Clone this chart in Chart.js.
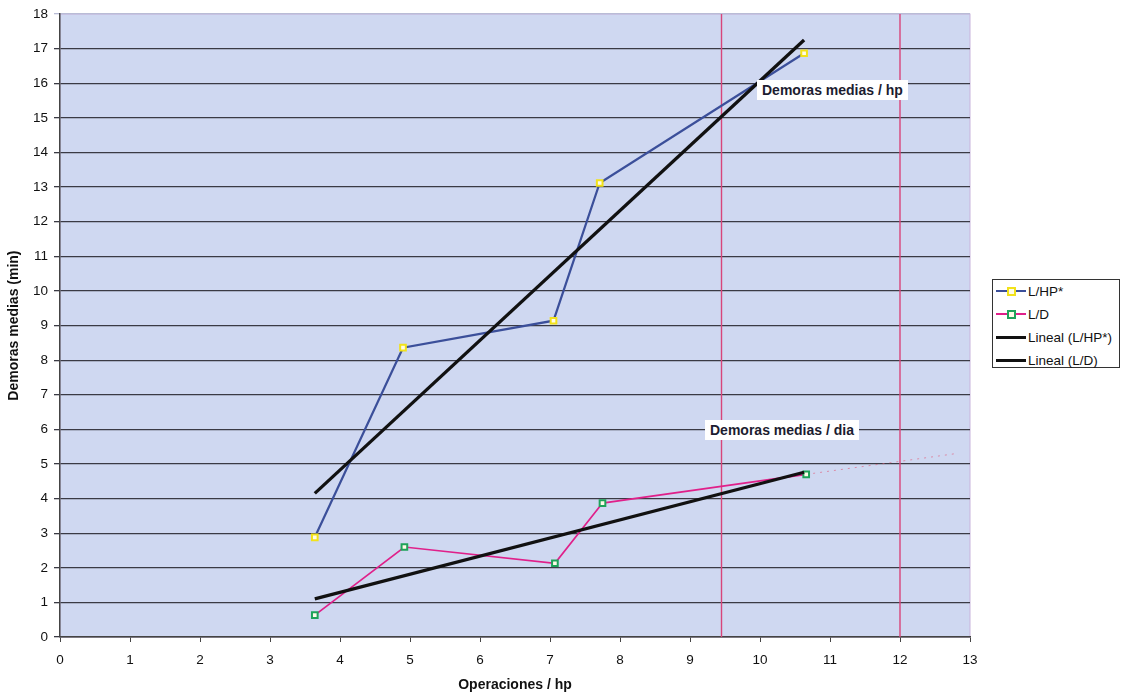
<!DOCTYPE html>
<html>
<head>
<meta charset="utf-8">
<script src="https://cdn.jsdelivr.net/npm/chart.js@4/dist/chart.umd.min.js"></script>
<style>
  html, body { margin: 0; padding: 0; background: #ffffff; }
  #wrap { position: relative; width: 1125px; height: 698px; }
  #c { position: absolute; left: 0; top: 0; }
  .note { position: absolute; background: #ffffff; font-family: "Liberation Sans", Arial, sans-serif;
          font-weight: bold; font-size: 14px; color: #1c1c30; padding: 2px 5px; white-space: nowrap; }
  #legend { position: absolute; left: 992px; top: 279px; width: 128px; height: 89px; background: #ffffff;
            border: 1px solid #333; box-sizing: border-box; font-family: "Liberation Sans", Arial, sans-serif;
            font-size: 13.5px; color: #111; }
  .li { position: absolute; left: 3px; height: 16px; display: flex; align-items: center; }
  .sw { position: relative; width: 30px; height: 16px; margin-right: 2px; }
  .sw .ln { position: absolute; left: 0; right: 0; top: 7px; }
  .sw .mk { position: absolute; left: 11px; top: 4px; width: 5px; height: 5px; background: #fffbe8; }
</style>
</head>
<body>
<div id="wrap">
  <canvas id="c" width="1125" height="698"></canvas>
  <div class="note" style="left:757px; top:80px;">Demoras medias / hp</div>
  <div class="note" style="left:705px; top:420px;">Demoras medias / dia</div>
  <div id="legend">
    <div class="li" style="top:3px;"><div class="sw"><div class="ln" style="border-top:2px solid #3b4f9a;"></div><div class="mk" style="border:2px solid #f2e21a;"></div></div>L/HP*</div>
    <div class="li" style="top:26px;"><div class="sw"><div class="ln" style="border-top:2px solid #e0208a;"></div><div class="mk" style="border:2px solid #1fa35a;"></div></div>L/D</div>
    <div class="li" style="top:49px;"><div class="sw"><div class="ln" style="border-top:3px solid #111;"></div></div>Lineal (L/HP*)</div>
    <div class="li" style="top:72px;"><div class="sw"><div class="ln" style="border-top:3px solid #111;"></div></div>Lineal (L/D)</div>
  </div>
</div>
<script>
// ---- data ----
const hpX = [3.64, 4.90, 7.05, 7.71, 10.63];
const hpY = [2.88, 8.36, 9.14, 13.12, 16.87];
const ldX = [3.64, 4.92, 7.07, 7.75, 10.66];
const ldY = [0.63, 2.60, 2.13, 3.87, 4.70];
const trendX = [3.64, 10.63];
const trendHpY = [4.15, 17.25];
const trendLdY = [1.10, 4.76];
const extX = [10.66, 12.8];
const extY = [4.70, 5.30];
const redLinesX = [9.45, 12.0];
const xTicks = [0,1,2,3,4,5,6,7,8,9,10,11,12,13];
const yTicks = [0,1,2,3,4,5,6,7,8,9,10,11,12,13,14,15,16,17,18];

const pts = (xs, ys) => xs.map((x, i) => ({x: x, y: ys[i]}));

const bgPlugin = {
  id: 'bg',
  beforeDraw(chart) {
    const a = chart.chartArea, ctx = chart.ctx;
    ctx.save();
    ctx.fillStyle = '#cfd8f1';
    ctx.fillRect(a.left, a.top, a.right - a.left, a.bottom - a.top);
    ctx.strokeStyle = '#c8b4dc';
    ctx.lineWidth = 1;
    ctx.strokeRect(a.left, a.top, a.right - a.left, a.bottom - a.top);
    ctx.restore();
  }
};

const datasets = [];
redLinesX.forEach(x => datasets.push({
  data: [{x: x, y: 0}, {x: x, y: 18}], showLine: true, borderColor: '#d8457a', borderWidth: 1.4,
  pointRadius: 0, order: 10
}));
datasets.push({
  data: pts(extX, extY), showLine: true, borderColor: 'rgba(225,90,120,0.6)', borderWidth: 1,
  borderDash: [2, 5], pointRadius: 0, order: 9
});
datasets.push({
  label: 'L/HP*', data: pts(hpX, hpY), showLine: true, borderColor: '#3b4f9a', borderWidth: 2.2,
  pointStyle: 'rect', pointRadius: 4, pointBorderWidth: 2, pointBorderColor: '#f2e21a',
  pointBackgroundColor: '#fffbe8', order: 3
});
datasets.push({
  label: 'L/D', data: pts(ldX, ldY), showLine: true, borderColor: '#e0208a', borderWidth: 1.7,
  pointStyle: 'rect', pointRadius: 4, pointBorderWidth: 2, pointBorderColor: '#1fa35a',
  pointBackgroundColor: '#fffbe8', order: 4
});
datasets.push({
  label: 'Lineal (L/HP*)', data: pts(trendX, trendHpY), showLine: true, borderColor: '#111111',
  borderWidth: 3.3, pointRadius: 0, order: 1
});
datasets.push({
  label: 'Lineal (L/D)', data: pts(trendX, trendLdY), showLine: true, borderColor: '#111111',
  borderWidth: 3.3, pointRadius: 0, order: 2
});

const tickFont = {family: '"Liberation Sans", Arial, sans-serif', size: 13.5};
const titleFont = {family: '"Liberation Sans", Arial, sans-serif', size: 14, weight: 'bold'};

new Chart(document.getElementById('c'), {
  type: 'scatter',
  data: {datasets: datasets},
  plugins: [bgPlugin],
  options: {
    responsive: false,
    animation: false,
    layout: {padding: {top: 12, right: 155, left: 0, bottom: 0}},
    plugins: {legend: {display: false}, tooltip: {enabled: false}},
    elements: {line: {tension: 0}},
    scales: {
      x: {
        type: 'linear', min: 0, max: 13,
        afterBuildTicks(s) { s.ticks = xTicks.map(v => ({value: v})); },
        afterFit(s) { s.height = 61; },
        grid: {drawOnChartArea: false, drawTicks: true, tickLength: 5, color: '#444'},
        border: {display: true, color: '#444', width: 1.5},
        ticks: {color: '#111', font: tickFont, padding: 10},
        title: {display: true, text: 'Operaciones / hp', color: '#111', font: titleFont, padding: {top: 8}}
      },
      y: {
        type: 'linear', min: 0, max: 18,
        afterBuildTicks(s) { s.ticks = yTicks.map(v => ({value: v})); },
        afterFit(s) { s.width = 60; },
        grid: {
          drawTicks: true, tickLength: 6,
          color: ctx => (ctx.tick && ctx.tick.value === 18) ? '#b9bcd6' : '#3a3a44',
          lineWidth: 1.3
        },
        border: {display: true, color: '#444', width: 1.5},
        ticks: {color: '#111', font: tickFont, padding: 6},
        title: {display: true, text: 'Demoras medias (min)', color: '#111', font: titleFont, padding: {bottom: 0, top: 6}}
      }
    }
  }
});
</script>
</body>
</html>
